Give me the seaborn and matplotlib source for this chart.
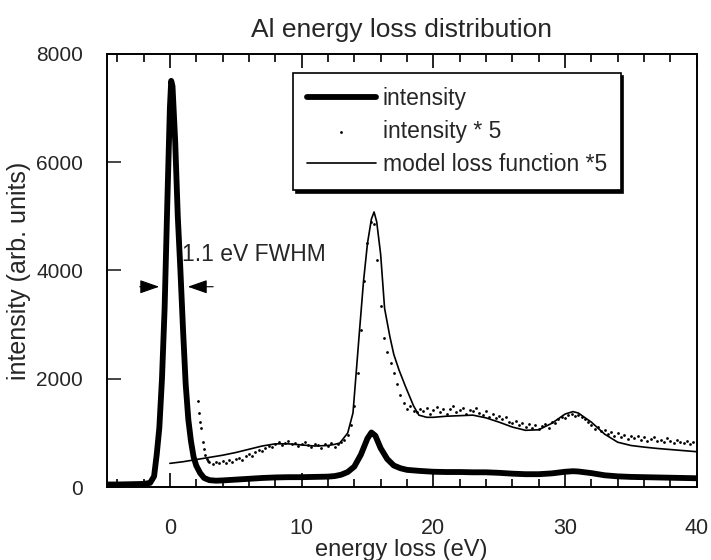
import numpy as np
import pandas as pd
import seaborn as sns
import matplotlib.pyplot as plt

# thick curve: measured intensity
int_x = [-4.8, -4, -3, -2, -1.5, -1.2, -1.0, -0.8, -0.6, -0.4, -0.2, 0.0, 0.1, 0.2,
         0.4, 0.6, 0.8, 1.0, 1.2, 1.4, 1.6, 1.8, 2.0, 2.3, 2.6, 3.0, 3.5, 4, 5, 6,
         7, 8, 9, 10, 11, 12, 12.5, 13, 13.5, 14, 14.5, 15, 15.3, 15.6, 16, 16.5,
         17, 17.5, 18, 19, 20, 21, 22, 23, 24, 25, 26, 27, 28, 29, 30, 30.6, 31,
         32, 33, 34, 35, 36, 37, 38, 39, 40]
int_y = [50, 50, 55, 60, 80, 200, 600, 1100, 2000, 3300, 5200, 7000, 7500, 7400,
         6400, 5000, 4000, 2900, 1900, 1250, 850, 560, 400, 260, 170, 130, 120, 125, 140, 155,
         170, 180, 185, 185, 190, 195, 205, 230, 280, 380, 600, 900, 1010, 950, 720, 520,
         400, 350, 320, 300, 285, 280, 280, 275, 275, 265, 250, 240, 240, 255, 285, 295, 290,
         260, 220, 200, 190, 185, 180, 175, 170, 165]

# model loss function *5
mod_x = [0, 1, 2, 3, 4, 5, 6, 7, 8, 9, 10, 11, 12, 12.5, 12.9, 13.5, 13.9, 14.1,
         14.4, 14.7, 15.0, 15.3, 15.5, 15.7, 16.0, 16.3, 16.7, 17.0, 17.4, 17.9, 18.5,
         18.9, 19.5, 20, 21, 22, 23, 24, 25, 26, 27, 28, 29, 30, 30.6, 31, 32, 33,
         34, 35, 36, 37, 38, 39, 40]
mod_y = [440, 470, 510, 550, 590, 640, 700, 760, 800, 800, 780, 760, 770, 790, 815, 1000, 1370, 1980,
         2900, 3800, 4500, 4950, 5080, 4900, 4300, 3300, 2780, 2450, 2160, 1850, 1500,
         1330, 1290, 1290, 1310, 1320, 1330, 1280, 1200, 1110, 1050, 1060, 1180, 1350, 1395, 1370, 1200, 980,
         830, 770, 740, 715, 695, 675, 655]

# intensity * 5 (scattered points)
dot_x = np.concatenate([[2.1, 2.2, 2.3, 2.4, 2.5, 2.6, 2.7, 2.8, 2.9],
                        np.arange(3.0, 40.01, 0.25)])
dot_y = [1600, 1370, 1200, 1090, 840, 700, 590, 520, 480,
         460, 430, 470, 445, 490, 455, 500, 470, 520,
         540, 510, 580, 610, 570, 650, 690, 660,
         720, 760, 740, 800, 830, 780, 820, 850,
         790, 820, 760, 800, 840, 780, 750, 800,
         770, 720, 790, 760, 810, 740, 800, 830,
         880, 960, 1150, 1500, 2100, 2900, 3800, 4500,
         4900, 4850, 4200, 3350, 2750, 2500, 2300, 2100,
         1900, 1700, 1550, 1450, 1500, 1400, 1380, 1450,
         1400, 1470, 1350, 1420, 1480, 1380, 1440, 1360,
         1450, 1500, 1390, 1420, 1470, 1350, 1430, 1400,
         1460, 1370, 1330, 1410, 1300, 1350, 1280, 1320,
         1250, 1290, 1210, 1180, 1230, 1150, 1190, 1120,
         1160, 1100, 1140, 1080, 1130, 1170, 1090, 1200,
         1180, 1250, 1300, 1270, 1330, 1360, 1310, 1340,
         1290, 1250, 1200, 1150, 1080, 1120, 1030, 1060,
         980, 1020, 950, 1000, 920, 970, 890, 940,
         900, 950, 870, 920, 860, 890, 930, 850,
         880, 830, 900, 860, 820, 870, 840, 810,
         850, 800, 830, 790]

sns.set_theme(style="ticks")
plt.rcParams['font.family'] = ['Liberation Sans', 'DejaVu Sans']

fig = plt.figure(figsize=(7.11, 5.6), dpi=100)
ax = fig.add_axes([0.150, 0.130, 0.830, 0.774])

sns.lineplot(x=int_x, y=int_y, ax=ax, color="black", lw=4.2, label="intensity")
sns.scatterplot(x=dot_x, y=dot_y, ax=ax, color="black", s=4, linewidth=0,
                label="intensity * 5")
sns.lineplot(x=mod_x, y=mod_y, ax=ax, color="black", lw=1.2,
             label="model loss function *5")

ax.set_xlim(-4.8, 40)
ax.set_ylim(0, 8000)
ax.set_xticks([0, 10, 20, 30, 40])
ax.set_xticks(np.arange(-4, 40, 2), minor=True)
ax.set_yticks([0, 2000, 4000, 6000, 8000])
ax.tick_params(axis="x", which="both", direction="in", top=True, bottom=True,
               labelsize=15.5, pad=22, color="black", width=1.2)
ax.tick_params(axis="x", which="major", length=10)
ax.tick_params(axis="x", which="minor", length=6)
ax.tick_params(axis="y", direction="in", left=True, right=False, length=10,
               labelsize=15, pad=17, width=1.2)
for s in ax.spines.values():
    s.set_color("black")
    s.set_linewidth(1.4)

ax.set_xlabel("energy loss (eV)", fontsize=17, labelpad=0)
ax.set_ylabel("intensity (arb. units)", fontsize=18, labelpad=4)
ax.set_title("Al energy loss distribution", fontsize=19, pad=12)

# FWHM marker
ax.annotate("", xy=(-0.6, 3700), xytext=(-2.5, 3700),
            arrowprops=dict(arrowstyle="-|>,head_length=1.0,head_width=0.35", color="black", lw=0.8))
ax.annotate("", xy=(1.15, 3700), xytext=(3.5, 3700),
            arrowprops=dict(arrowstyle="-|>,head_length=1.0,head_width=0.35", color="black", lw=0.8))
ax.text(0.9, 4300, "1.1 eV FWHM", fontsize=16.5, va="center", ha="left")

leg = ax.legend(loc="upper left", bbox_to_anchor=(0.316, 0.956), borderaxespad=0,
                fontsize=16.5, frameon=True, fancybox=False, handlelength=3.0,
                handletextpad=0.3, labelspacing=0.45, borderpad=0.6, markerscale=1,
                shadow={"color": "black", "alpha": 1})
leg.get_frame().set_edgecolor("black")
leg.get_frame().set_linewidth(1.2)
leg.get_frame().set_alpha(1)

fig.savefig("out.png", dpi=100)
